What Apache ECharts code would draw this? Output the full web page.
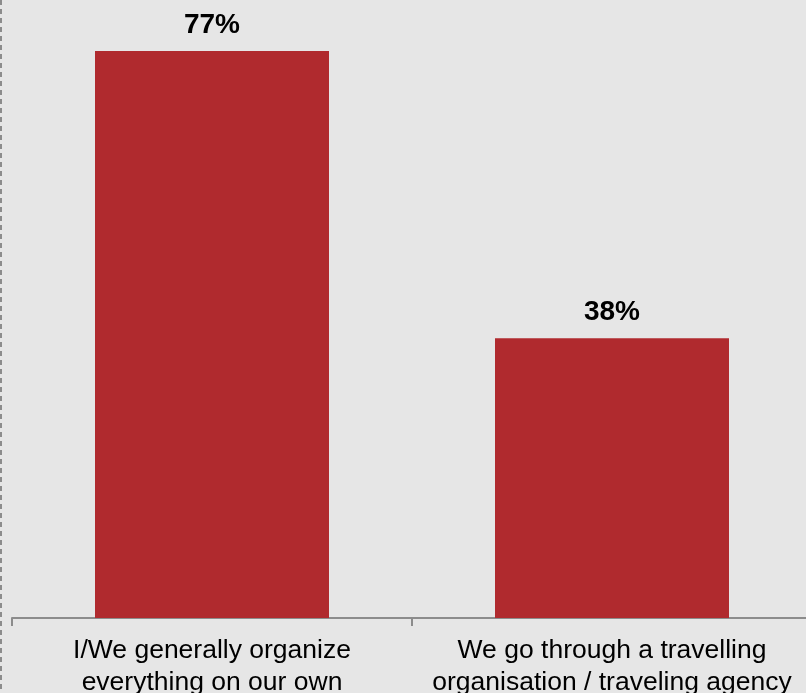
<!DOCTYPE html>
<html>
<head>
<meta charset="utf-8">
<script src="https://cdn.jsdelivr.net/npm/echarts@6/dist/echarts.min.js"></script>
<style>
html,body{margin:0;padding:0;background:#e6e6e6;}
#chart{width:806px;height:693px;}
</style>
</head>
<body>
<div id="chart"></div>
<script>
// Travel arrangement shares
var categories = ['I/We generally organize\neverything on our own', 'We go through a travelling\norganisation / traveling agency'];
var values = [77, 38];

var chart = echarts.init(document.getElementById('chart'));
chart.setOption({
  backgroundColor: '#e6e6e6',
  animation: false,
  grid: { left: 12, width: 800, top: 29, bottom: 75, containLabel: false, outerBoundsMode: 'none' },
  xAxis: {
    type: 'category',
    data: categories,
    axisLine: { lineStyle: { color: '#8c8c8c', width: 2 } },
    axisTick: { show: true, alignWithLabel: false, length: 8, lineStyle: { color: '#8c8c8c', width: 2 } },
    axisLabel: {
      color: '#000', fontFamily: 'Liberation Sans, Arial', fontSize: 26.5,
      lineHeight: 32, margin: 17, interval: 0
    }
  },
  yAxis: { type: 'value', min: 0, max: 80, show: false },
  series: [{
    type: 'bar',
    data: values,
    barWidth: 234,
    itemStyle: { color: '#b02a2e' },
    label: {
      show: true, position: 'top', distance: 12,
      formatter: '{c}%', color: '#000',
      fontFamily: 'Liberation Sans, Arial', fontSize: 28, fontWeight: 'bold'
    }
  }],
  graphic: [{
    type: 'line',
    shape: { x1: 1, y1: 0, x2: 1, y2: 693 },
    style: { stroke: '#8c8c8c', lineWidth: 2, lineDash: [5, 4] }
  }]
});
</script>
</body>
</html>
